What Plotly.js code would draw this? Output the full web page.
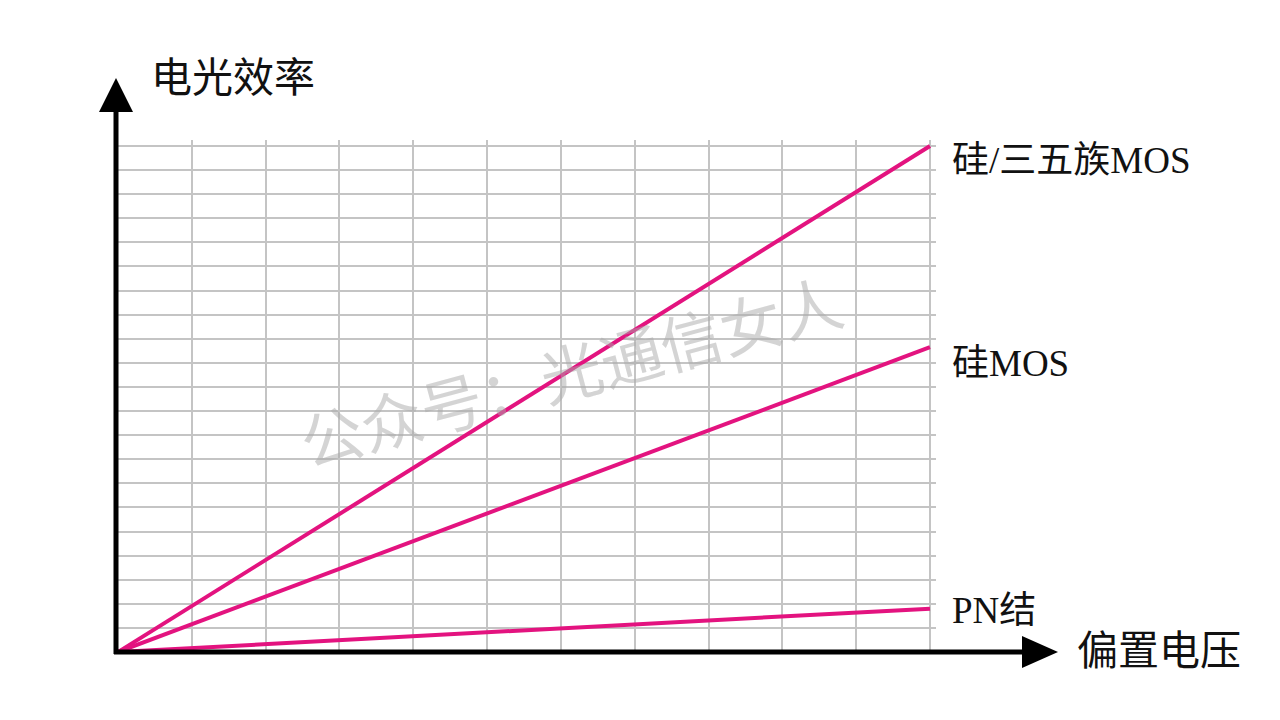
<!DOCTYPE html>
<html>
<head>
<meta charset="utf-8">
<script src="https://cdn.plot.ly/plotly-3.0.1.min.js"></script>
<style>html,body{margin:0;padding:0;background:#fff;}#chart{width:1280px;height:720px;}</style>
</head>
<body>
<div id="chart"></div>
<script>
// Data
const biasVoltage = [0, 11];
const seriesNames = ["硅/三五族MOS", "硅MOS", "PN结"];
const iiiVMos = [0, 21];
const siMos = [0, 12.65];
const pnJunction = [0, 1.8];
const labelShift = [-14, -16, -2];
const xTitle = "偏置电压";
const yTitle = "电光效率";
const watermark = "公众号：光通信女人";

const pink = "#E3137F";
const fontFam = "Liberation Serif, 'Noto Sans CJK SC', serif";
const seriesVals = [iiiVMos, siMos, pnJunction];

const traces = seriesVals.map((v, i) => ({
  x: biasVoltage, y: v, type: "scatter", mode: "lines", name: seriesNames[i],
  line: {color: pink, width: 4}, hoverinfo: "skip"
}));

// grid spans 118..930 x 146..652 px; plot area padded a few px so edge gridlines are drawn
const gL = 118, gR = 930, gT = 146, gB = 652;
const L = 118, R = 936, T = 140, B = 652;
const xMax = 11 * (R - L) / (gR - gL);
const yMax = 21 * (B - T) / (gB - gT);
const px = p => (p - L) / (R - L);
const py = p => (B - p) / (B - T);

const annotations = seriesVals.map((v, i) => ({
  x: biasVoltage[biasVoltage.length - 1], y: v[v.length - 1], xref: "x", yref: "y",
  text: seriesNames[i], showarrow: false, xanchor: "left", yanchor: "middle",
  xshift: 20, yshift: labelShift[i],
  font: {family: fontFam, size: 37, color: "#111"}
}));
annotations.push({
  xref: "paper", yref: "paper", x: px(149), y: py(78), xanchor: "left", yanchor: "middle",
  text: yTitle, showarrow: false, font: {family: fontFam, size: 41, color: "#111"}
});
annotations.push({
  xref: "paper", yref: "paper", x: px(1075), y: py(651), xanchor: "left", yanchor: "middle",
  text: xTitle, showarrow: false, font: {family: fontFam, size: 41, color: "#111"}
});
annotations.push({
  xref: "paper", yref: "paper", x: px(572), y: py(375), xanchor: "center", yanchor: "middle",
  text: watermark, showarrow: false, textangle: -15,
  font: {family: fontFam, size: 62, color: "rgba(170,170,170,0.5)"}
});

const shapes = [
  {type: "line", xref: "paper", yref: "paper", x0: px(116), x1: px(116), y0: py(654), y1: py(100), line: {color: "#000", width: 5}, layer: "above"},
  {type: "path", xref: "paper", yref: "paper",
   path: `M ${px(116)} ${py(78)} L ${px(99)} ${py(112)} L ${px(133)} ${py(112)} Z`,
   fillcolor: "#000", line: {width: 0}, layer: "above"},
  {type: "line", xref: "paper", yref: "paper", x0: px(114), x1: px(1035), y0: py(652), y1: py(652), line: {color: "#000", width: 5}, layer: "above"},
  {type: "path", xref: "paper", yref: "paper",
   path: `M ${px(1058)} ${py(652)} L ${px(1022)} ${py(636)} L ${px(1022)} ${py(668)} Z`,
   fillcolor: "#000", line: {width: 0}, layer: "above"}
];

const layout = {
  width: 1280, height: 720,
  margin: {l: L, r: 1280 - R, t: T, b: 720 - B, pad: 0},
  paper_bgcolor: "#fff", plot_bgcolor: "#fff",
  showlegend: false,
  xaxis: {range: [0, xMax], dtick: 1, tick0: 0, showgrid: true, gridcolor: "#c4c4c4", gridwidth: 2,
          showticklabels: false, ticks: "", zeroline: false, showline: false, fixedrange: true},
  yaxis: {range: [0, yMax], dtick: 1, tick0: 0, showgrid: true, gridcolor: "#c4c4c4", gridwidth: 2,
          showticklabels: false, ticks: "", zeroline: false, showline: false, fixedrange: true},
  annotations: annotations,
  shapes: shapes
};

Plotly.newPlot("chart", traces, layout, {staticPlot: true, displayModeBar: false});
</script>
</body>
</html>
